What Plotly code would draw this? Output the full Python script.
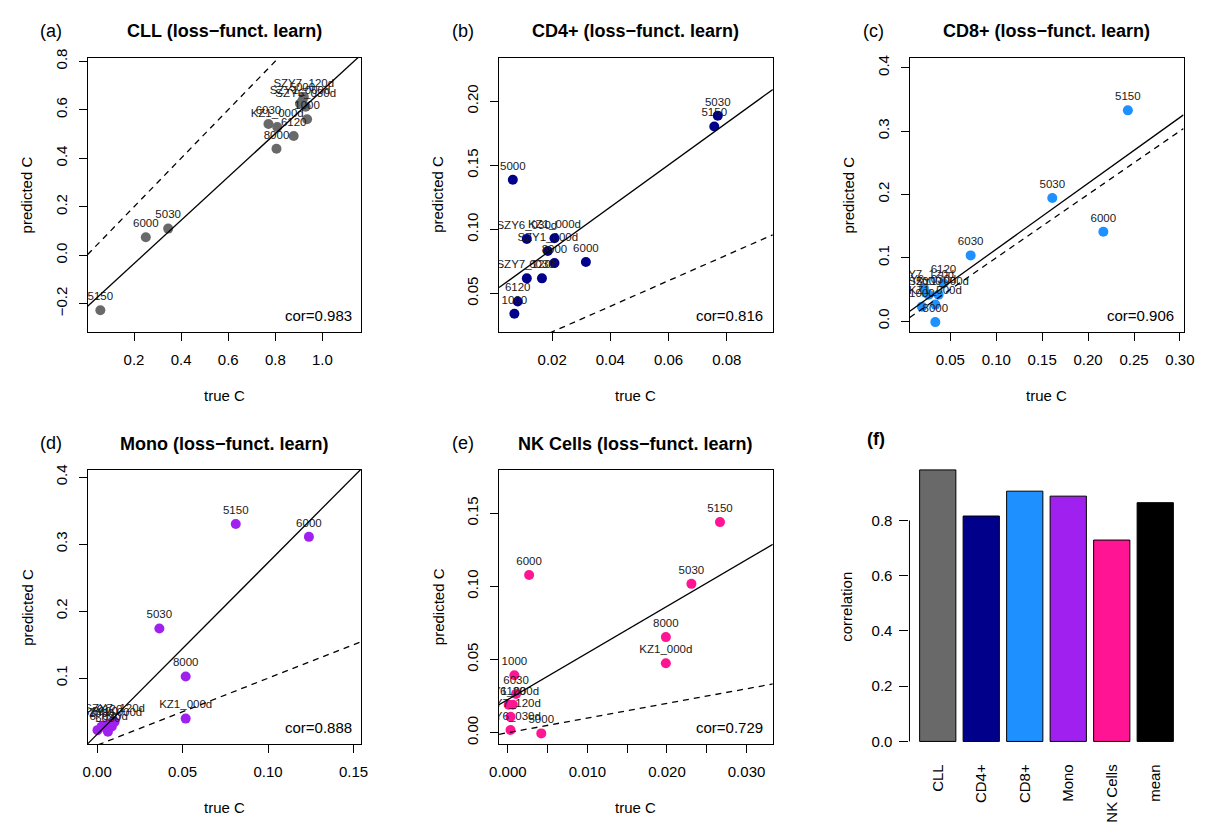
import plotly.graph_objects as go

W, H = 1207, 823
FONT = "Liberation Sans, Arial, Helvetica, sans-serif"

# ---- data -------------------------------------------------------------
samples = ["1000", "5000", "5030", "5150", "6000", "6030", "6120", "8000",
           "KZ1_000d", "SZY1_000d", "SZY6_030d", "SZY7_120d"]

cll_true = [0.935, 0.915, 0.345, 0.057, 0.250, 0.771, 0.878, 0.805, 0.808, 0.905, 0.929, 0.921]
cll_pred = [0.561, 0.637, 0.110, -0.227, 0.074, 0.541, 0.492, 0.439, 0.529, 0.625, 0.612, 0.653]

cd4_true = [0.00703, 0.00649, 0.0769, 0.0757, 0.0316, 0.0165, 0.00818, 0.0208, 0.0208, 0.0185, 0.0113, 0.0113]
cd4_pred = [0.0342, 0.1388, 0.1888, 0.1803, 0.0746, 0.0618, 0.0438, 0.0738, 0.0931, 0.0831, 0.0926, 0.0618]

cd8_true = [0.019, 0.0265, 0.161, 0.2433, 0.2166, 0.0721, 0.0425, 0.0336, 0.0336, 0.0372, 0.0233, 0.0211]
cd8_pred = [0.0228, 0.0415, 0.1943, 0.3327, 0.141, 0.1037, 0.0597, -0.0016, 0.026, 0.0415, 0.0446, 0.0524]

mono_true = [0.0025, 0.0046, 0.0364, 0.0811, 0.1239, 0.0063, 0.0073, 0.0518, 0.0518, 0.0086, 0.0002, 0.0102]
mono_pred = [0.0275, 0.0294, 0.174, 0.3299, 0.3108, 0.0201, 0.0324, 0.1025, 0.0397, 0.0281, 0.0225, 0.0349]

nk_true = [0.00082, 0.0042, 0.02307, 0.02666, 0.00267, 0.00103, 0.00062, 0.01986, 0.01986, 0.0001, 0.00033, 0.00033]
nk_pred = [0.0393, -0.0005, 0.1017, 0.1439, 0.1078, 0.0265, 0.0191, 0.0653, 0.0474, 0.0191, 0.0018, 0.0108]

cell_types = ["CLL", "CD4+", "CD8+", "Mono", "NK Cells"]
cor_values = [0.983, 0.816, 0.906, 0.888, 0.729]
fit_intercepts = [-0.213, 0.0517, 0.0095, 0.0163, 0.0226]
fit_slopes = [0.893, 1.644, 1.040, 2.561, 3.185]
cell_colors = ["#696969", "#00008B", "#1E90FF", "#A020F0", "#FF1493"]

x_ranges = [[0.003, 1.1655], [0.00176, 0.0958], [0.0058, 0.3039], [-0.00558, 0.1546], [-0.00111, 0.0333]]
y_ranges = [[-0.316, 0.815], [0.02, 0.2341], [-0.0171, 0.416], [0.0015, 0.4107], [-0.0079, 0.1796]]

x_ticks = [[0.2, 0.4, 0.6, 0.8, 1.0],
           [0.02, 0.04, 0.06, 0.08],
           [0.05, 0.10, 0.15, 0.20, 0.25, 0.30],
           [0.00, 0.05, 0.10, 0.15],
           [0.000, 0.005, 0.010, 0.015, 0.020, 0.025, 0.030]]
x_tick_text = [["0.2", "0.4", "0.6", "0.8", "1.0"],
               ["0.02", "0.04", "0.06", "0.08"],
               ["0.05", "0.10", "0.15", "0.20", "0.25", "0.30"],
               ["0.00", "0.05", "0.10", "0.15"],
               ["0.000", "", "0.010", "", "0.020", "", "0.030"]]
y_ticks = [[-0.2, 0.0, 0.2, 0.4, 0.6, 0.8],
           [0.05, 0.10, 0.15, 0.20],
           [0.0, 0.1, 0.2, 0.3, 0.4],
           [0.1, 0.2, 0.3, 0.4],
           [0.00, 0.05, 0.10, 0.15]]
y_tick_text = [["\u22120.2", "0.0", "0.2", "0.4", "0.6", "0.8"],
               ["0.05", "0.10", "0.15", "0.20"],
               ["0.0", "0.1", "0.2", "0.3", "0.4"],
               ["0.1", "0.2", "0.3", "0.4"],
               ["0.00", "0.05", "0.10", "0.15"]]

panel_letters = ["(a)", "(b)", "(c)", "(d)", "(e)"]
true_values = [cll_true, cd4_true, cd8_true, mono_true, nk_true]
pred_values = [cll_pred, cd4_pred, cd8_pred, mono_pred, nk_pred]

bar_names = cell_types + ["mean"]
bar_values = cor_values + [sum(cor_values) / len(cor_values)]
bar_colors = cell_colors + ["#000000"]
bar_ticks = [0.0, 0.2, 0.4, 0.6, 0.8]

# ---- layout geometry (pixels) ------------------------------------------
col_left = [79.0, 497.7, 915.7]
row_top = [49.3, 467.7]
pw, ph = 278.6, 278.4


def px_x(v):
    return v / W


def px_y(v):
    return 1 - v / H


fig = go.Figure()
layout = dict(
    width=W, height=H, autosize=False,
    margin=dict(l=0, r=0, t=0, b=0),
    paper_bgcolor="white", plot_bgcolor="white",
    showlegend=False,
    font=dict(family=FONT, color="black", size=15),
)
annotations = []
shapes = []

for i in range(5):
    n = i + 1
    r, c = divmod(i, 3)
    x0, y0 = col_left[c], row_top[r]
    xa = "x" if n == 1 else f"x{n}"
    ya = "y" if n == 1 else f"y{n}"
    common = dict(showline=True, linecolor="black", linewidth=1, mirror=True,
                  ticks="outside", ticklen=8, tickwidth=1, tickcolor="black",
                  showgrid=False, zeroline=False,
                  tickfont=dict(family=FONT, size=15, color="black"))
    layout["xaxis" if n == 1 else f"xaxis{n}"] = dict(
        domain=[px_x(x0), px_x(x0 + pw)], range=x_ranges[i], anchor=ya,
        tickmode="array", tickvals=x_ticks[i], ticktext=x_tick_text[i],
        ticklabelstandoff=6, **common)
    layout["yaxis" if n == 1 else f"yaxis{n}"] = dict(
        domain=[px_y(y0 + ph), px_y(y0)], range=y_ranges[i], anchor=xa,
        tickmode="array", tickvals=y_ticks[i], ticktext=y_tick_text[i],
        tickangle=-90, ticklabelstandoff=6, **common)

    # sample points
    fig.add_trace(go.Scatter(
        x=true_values[i], y=pred_values[i], mode="markers", xaxis=xa, yaxis=ya,
        marker=dict(size=10, color=cell_colors[i], line=dict(width=0)),
        cliponaxis=True, hoverinfo="skip"))
    # sample labels above each point
    fig.add_trace(go.Scatter(
        x=true_values[i], y=pred_values[i], mode="markers+text", xaxis=xa, yaxis=ya,
        text=samples, textposition="top center",
        textfont=dict(family=FONT, size=11.5, color="#1a1a1a"),
        marker=dict(size=10, opacity=0), cliponaxis=True, hoverinfo="skip"))
    # fitted line and identity line
    xr = x_ranges[i]
    fig.add_trace(go.Scatter(
        x=xr, y=[fit_intercepts[i] + fit_slopes[i] * v for v in xr],
        mode="lines", xaxis=xa, yaxis=ya, cliponaxis=True,
        line=dict(color="black", width=1.3), hoverinfo="skip"))
    fig.add_trace(go.Scatter(
        x=xr, y=xr, mode="lines", xaxis=xa, yaxis=ya, cliponaxis=True,
        line=dict(color="black", width=1.3, dash="6px,5px"), hoverinfo="skip"))

    # texts around the panel
    annotations.append(dict(
        text=f"<b>{cell_types[i]} (loss\u2212funct. learn)</b>", xref="paper", yref="paper",
        x=px_x(x0 + pw / 2), y=px_y(y0 - 26.6), showarrow=False,
        xanchor="center", yanchor="middle", font=dict(size=18)))
    annotations.append(dict(
        text=panel_letters[i], xref="paper", yref="paper",
        x=px_x(x0 - 37), y=px_y(y0 - 27), showarrow=False,
        xanchor="center", yanchor="middle", font=dict(size=18)))
    annotations.append(dict(
        text="true C", xref="paper", yref="paper",
        x=px_x(x0 + pw / 2), y=px_y(y0 + ph + 64.5), showarrow=False,
        xanchor="center", yanchor="middle", font=dict(size=15)))
    annotations.append(dict(
        text="predicted C", xref="paper", yref="paper", textangle=-90,
        x=px_x(x0 - 62), y=px_y(y0 + ph / 2), showarrow=False,
        xanchor="center", yanchor="middle", font=dict(size=15)))
    annotations.append(dict(
        text=f"cor={cor_values[i]:.3f}", xref="paper", yref="paper",
        x=px_x(x0 + pw - 8), y=px_y(y0 + ph - 16.5), showarrow=False,
        xanchor="right", yanchor="middle", font=dict(size=15)))

# ---- panel (f): correlation bars ---------------------------------------
fx0, fx1 = 915.4, 1194.3
fy0, fy1 = 456.7, 754.3
fig.add_trace(go.Bar(
    x=bar_names, y=bar_values, xaxis="x6", yaxis="y6", width=0.8333,
    marker=dict(color=bar_colors, line=dict(color="black", width=1)),
    hoverinfo="skip"))
layout["xaxis6"] = dict(
    domain=[px_x(fx0), px_x(fx1)], range=[-0.65, 5.65], anchor="y6",
    type="category", showline=False, ticks="", showgrid=False, zeroline=False,
    tickangle=-90, ticklabelstandoff=8,
    tickfont=dict(family=FONT, size=15, color="black"))
layout["yaxis6"] = dict(
    domain=[px_y(fy1), px_y(fy0)], range=[-0.0393, 1.0223], anchor="x6",
    tickmode="array", tickvals=bar_ticks, ticktext=[f"{v:.1f}" for v in bar_ticks],
    showline=False, ticks="outside", ticklen=9, tickwidth=1, tickcolor="black",
    showgrid=False, zeroline=False, ticklabelstandoff=4,
    tickfont=dict(family=FONT, size=15, color="black"))
shapes.append(dict(type="line", xref="x6 domain", yref="y6",
                   x0=0, x1=0, y0=bar_ticks[0], y1=bar_ticks[-1],
                   line=dict(color="black", width=1)))
annotations.append(dict(
    text="<b>(f)</b>", xref="paper", yref="paper", x=px_x(881), y=px_y(436),
    showarrow=False, xanchor="center", yanchor="middle", font=dict(size=18)))
annotations.append(dict(
    text="correlation", xref="paper", yref="paper", textangle=-90,
    x=px_x(851.7), y=px_y(606.7), showarrow=False,
    xanchor="center", yanchor="middle", font=dict(size=15)))

layout["annotations"] = annotations
layout["shapes"] = shapes
fig.update_layout(**layout)
fig.write_html("out.html")
